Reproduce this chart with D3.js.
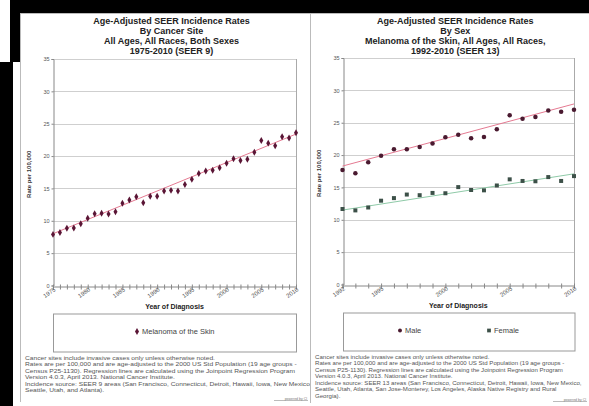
<!DOCTYPE html>
<html>
<head>
<meta charset="utf-8">
<script src="https://cdn.jsdelivr.net/npm/d3@7"></script>
<style>
  html, body { margin: 0; padding: 0; background: #fff; }
  svg { display: block; font-family: Arial, 'Liberation Sans', sans-serif; }
</style>
</head>
<body>
<div id="chart"></div>
<script>
// left panel: all sexes, 1975-2010 (SEER 9)
const allYears = [1975, 1976, 1977, 1978, 1979, 1980, 1981, 1982, 1983, 1984, 1985, 1986,
  1987, 1988, 1989, 1990, 1991, 1992, 1993, 1994, 1995, 1996, 1997, 1998, 1999, 2000,
  2001, 2002, 2003, 2004, 2005, 2006, 2007, 2008, 2009, 2010]
const allRates = [7.9, 8.2, 8.85, 8.9, 9.55, 10.4, 11.1, 11.15, 11.05, 11.4, 12.7, 13.2,
  13.7, 12.8, 13.8, 13.8, 14.6, 14.7, 14.6, 15.6, 16.4, 17.3, 17.7, 17.8, 18.2, 18.9,
  19.6, 19.3, 19.5, 20.6, 22.4, 22.0, 21.6, 23.0, 22.8, 23.6]
const allFitYears = [1975, 2010]
const allFit = [8.0, 23.4]
const allTicks = [1975, 1980, 1985, 1990, 1995, 2000, 2005, 2010]

// right panel: by sex, 1992-2010 (SEER 13)
const sexYears = [1992, 1993, 1994, 1995, 1996, 1997, 1998, 1999, 2000, 2001, 2002,
  2003, 2004, 2005, 2006, 2007, 2008, 2009, 2010]
const maleRates = [17.7, 17.2, 18.9, 19.9, 20.9, 20.9, 21.25, 21.8, 22.75, 23.15, 22.6,
  22.8, 24.0, 26.15, 25.6, 25.9, 26.9, 26.7, 27.0]
const femaleRates = [11.67, 11.45, 11.9, 12.95, 13.35, 13.9, 13.8, 14.15, 14.1, 15.05, 14.6,
  14.55, 15.3, 16.25, 16.0, 15.95, 16.6, 16.0, 16.75]
const sexFitYears = [1992, 2010]
const maleFit = [18.3, 27.9]
const femaleFit = [11.5, 17.1]
const sexTicks = [1992, 1995, 2000, 2005, 2010]

const yTicks = [0, 5, 10, 15, 20, 25, 30, 35]

const leftTitle = ['Age-Adjusted SEER Incidence Rates', 'By Cancer Site',
  'All Ages, All Races, Both Sexes', '1975-2010  (SEER 9)']
const rightTitle = ['Age-Adjusted SEER Incidence Rates', 'By Sex',
  'Melanoma of the Skin, All Ages, All Races,', '1992-2010  (SEER 13)']

const leftNotes = [
  'Cancer sites include invasive cases only unless otherwise noted.',
  'Rates are per 100,000 and are age-adjusted to the 2000 US Std Population (19 age groups -',
  'Census P25-1130). Regression lines are calculated using the Joinpoint Regression Program',
  'Version 4.0.3, April 2013. National Cancer Institute.',
  'Incidence source: SEER 9 areas (San Francisco, Connecticut, Detroit, Hawaii, Iowa, New Mexico,',
  'Seattle, Utah, and Atlanta).'
]
const rightNotes = [
  'Cancer sites include invasive cases only unless otherwise noted.',
  'Rates are per 100,000 and are age-adjusted to the 2000 US Std Population (19 age groups -',
  'Census P25-1130). Regression lines are calculated using the Joinpoint Regression Program',
  'Version 4.0.3, April 2013. National Cancer Institute.',
  'Incidence source: SEER 13 areas (San Francisco, Connecticut, Detroit, Hawaii, Iowa, New Mexico,',
  'Seattle, Utah, Atlanta, San Jose-Monterey, Los Angeles, Alaska Native Registry and Rural',
  'Georgia).'
]

const width = 589
const height = 406

const svg = d3.select('#chart').append('svg')
  .attr('width', width)
  .attr('height', height)

svg.append('rect').attr('width', width).attr('height', height).attr('fill', '#fff')

// black frame of the screenshot
svg.append('rect').attr('x', 10).attr('y', 0).attr('width', width - 10).attr('height', 13).attr('fill', '#000')
svg.append('rect').attr('x', 0).attr('y', 62).attr('width', 13).attr('height', height - 62).attr('fill', '#000')
svg.append('rect').attr('x', 10).attr('y', 0).attr('width', 10).attr('height', 62).attr('fill', '#000')

function drawPanel ({ box, plot, years, ticks, series, title, notes, notesWidth, legendItems, clipId }) {
  const g = svg.append('g')

  const clip = svg.append('clipPath').attr('id', clipId)
  clip.append('rect').attr('x', box.x0).attr('y', box.y0).attr('width', box.x1 - box.x0).attr('height', box.y1 - box.y0)

  g.attr('clip-path', `url(#${clipId})`)

  g.append('rect')
    .attr('x', box.x0 + 0.5).attr('y', box.y0 + 0.5)
    .attr('width', box.x1 - box.x0).attr('height', box.y1 - box.y0)
    .attr('fill', '#fff')
    .attr('stroke', '#bbb')

  const x = d3.scaleLinear()
    .domain([years[0], years[years.length - 1]])
    .range([plot.left, plot.right])

  const y = d3.scaleLinear()
    .domain([0, 35])
    .range([plot.bottom, plot.top])

  // title
  const cx = (plot.left + plot.right) / 2
  g.append('g').selectAll('text')
    .data(title).enter()
    .append('text')
    .attr('x', cx - 3)
    .attr('y', (d, i) => box.y0 + 11 + i * 10)
    .attr('text-anchor', 'middle')
    .attr('font-size', 9)
    .attr('font-weight', 'bold')
    .attr('fill', '#222')
    .text(d => d)

  // grid
  g.append('g').selectAll('line')
    .data(yTicks.filter(d => d > 0)).enter()
    .append('line')
    .attr('x1', plot.left).attr('x2', plot.right)
    .attr('y1', d => Math.round(y(d)) + 0.5).attr('y2', d => Math.round(y(d)) + 0.5)
    .attr('stroke', '#cfcfcf')

  g.append('line')
    .attr('x1', Math.round(plot.right) + 0.5).attr('x2', Math.round(plot.right) + 0.5)
    .attr('y1', plot.top).attr('y2', plot.bottom)
    .attr('stroke', '#aaa')

  // y axis
  const yAxis = g.append('g')
    .attr('transform', `translate(${Math.round(plot.left) + 0.5},0)`)
    .call(d3.axisLeft(y).tickValues(yTicks).tickSize(2).tickFormat(d3.format('d')))
  yAxis.select('.domain').attr('stroke', '#888')
  yAxis.selectAll('.tick line').attr('stroke', '#888')
  yAxis.selectAll('text').attr('font-size', 5.5).attr('fill', '#555').attr('x', -4)

  g.append('text')
    .attr('transform', `translate(${plot.left - 22},${(plot.top + plot.bottom) / 2 + 2}) rotate(-90)`)
    .attr('text-anchor', 'middle')
    .attr('font-size', 6)
    .attr('font-weight', 'bold')
    .attr('fill', '#333')
    .text('Rate per 100,000')

  // x axis with a tick every year
  const xAxis = g.append('g')
    .attr('transform', `translate(0,${Math.round(plot.bottom) + 0.5})`)
    .call(d3.axisBottom(x).tickValues(years).tickSize(3).tickFormat(''))
  xAxis.select('.domain').attr('stroke', '#888')
  xAxis.selectAll('.tick line').attr('stroke', '#888').attr('y1', -2)

  g.append('g').selectAll('text')
    .data(ticks).enter()
    .append('text')
    .attr('transform', d => `translate(${x(d) + 3},${plot.bottom + 5}) rotate(-35)`)
    .attr('text-anchor', 'end')
    .attr('font-size', 6)
    .attr('fill', '#555')
    .text(d => d)

  g.append('text')
    .attr('x', cx)
    .attr('y', plot.bottom + 23)
    .attr('text-anchor', 'middle')
    .attr('font-size', 7)
    .attr('font-weight', 'bold')
    .attr('fill', '#222')
    .text('Year of Diagnosis')

  // regression lines then points
  series.forEach(s => {
    g.append('path')
      .datum(s.fitYears.map((yr, i) => [yr, s.fit[i]]))
      .attr('fill', 'none')
      .attr('stroke', s.lineColor)
      .attr('stroke-width', 1)
      .attr('d', d3.line().x(d => x(d[0])).y(d => y(d[1])))

    g.append('g').selectAll('path')
      .data(years.map((yr, i) => [yr, s.values[i]])).enter()
      .append('path')
      .attr('transform', d => `translate(${x(d[0])},${y(d[1])})`)
      .attr('d', d3.symbol().type(s.symbol).size(s.size))
      .attr('fill', s.color)
  })

  // legend
  g.append('rect')
    .attr('x', Math.round(plot.left) + 0.5).attr('y', plot.bottom + 28.5)
    .attr('width', plot.right - plot.left).attr('height', 38)
    .attr('fill', '#fff')
    .attr('stroke', '#999')

  legendItems.forEach(item => {
    g.append('path')
      .attr('transform', `translate(${item.x},${plot.bottom + 46})`)
      .attr('d', d3.symbol().type(item.symbol).size(item.size))
      .attr('fill', item.color)
    g.append('text')
      .attr('x', item.x + 5)
      .attr('y', plot.bottom + 48.5)
      .attr('font-size', 7.5)
      .attr('fill', '#444')
      .text(item.label)
  })

  // footnotes; the second line is stretched to the width seen in the original
  const notesG = g.append('g')
  const noteText = notesG.selectAll('text')
    .data(notes).enter()
    .append('text')
    .attr('font-size', 6.1)
    .attr('fill', '#555')
    .text(d => d)
  const longest = noteText.nodes()[1].getComputedTextLength()
  const sx = notesWidth / longest
  noteText.attr('transform', (d, i) => `translate(${box.x0 + 5},${plot.bottom + 74 + i * 6.5}) scale(${sx},1)`)

  g.append('line')
    .attr('x1', box.x1 - 36).attr('x2', box.x1 - 2)
    .attr('y1', box.y1 - 1.5).attr('y2', box.y1 - 1.5)
    .attr('stroke', '#bbb')
  g.append('text')
    .attr('x', box.x1 - 3)
    .attr('y', box.y1 - 2.5)
    .attr('text-anchor', 'end')
    .attr('font-size', 3.5)
    .attr('fill', '#777')
    .text('powered by Cl')
}

drawPanel({
  box: { x0: 20, y0: 13, x1: 310, y1: 402 },
  plot: { left: 53, right: 296, top: 59, bottom: 285.5 },
  years: allYears,
  ticks: allTicks,
  series: [
    { values: allRates, fitYears: allFitYears, fit: allFit, symbol: d3.symbolDiamond, size: 14, color: '#5a1535', lineColor: '#e57a92' }
  ],
  title: leftTitle,
  notes: leftNotes,
  notesWidth: 272,
  legendItems: [
    { label: 'Melanoma of the Skin', symbol: d3.symbolDiamond, size: 14, color: '#5a1535', x: 137 }
  ],
  clipId: 'clipLeft'
})

drawPanel({
  box: { x0: 310, y0: 13, x1: 589, y1: 403 },
  plot: { left: 342.5, right: 574, top: 58, bottom: 284.5 },
  years: sexYears,
  ticks: sexTicks,
  series: [
    { values: maleRates, fitYears: sexFitYears, fit: maleFit, symbol: d3.symbolCircle, size: 16, color: '#4a1a30', lineColor: '#e57a92' },
    { values: femaleRates, fitYears: sexFitYears, fit: femaleFit, symbol: d3.symbolSquare, size: 16, color: '#3c5048', lineColor: '#8fcaa8' }
  ],
  title: rightTitle,
  notes: rightNotes,
  notesWidth: 250,
  legendItems: [
    { label: 'Male', symbol: d3.symbolCircle, size: 12, color: '#4a1a30', x: 400 },
    { label: 'Female', symbol: d3.symbolSquare, size: 14, color: '#3c5048', x: 489 }
  ],
  clipId: 'clipRight'
})
</script>
</body>
</html>
